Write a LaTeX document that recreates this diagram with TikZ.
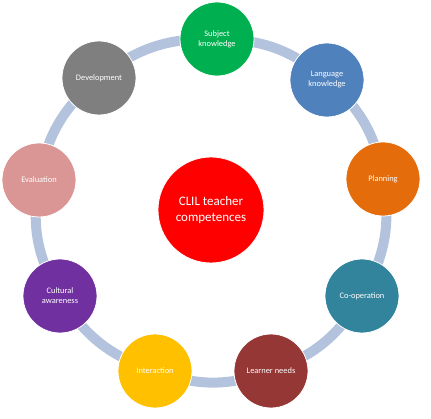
\documentclass[tikz,border=0pt]{standalone}
\usepackage{fontspec}
\setmainfont{Carlito}
\usetikzlibrary{backgrounds}
\definecolor{ringc}{HTML}{B3C3DD}
\definecolor{cgreen}{HTML}{00B050}
\definecolor{cblue}{HTML}{4F81BD}
\definecolor{corange}{HTML}{E46C0A}
\definecolor{cteal}{HTML}{31849B}
\definecolor{cbrown}{HTML}{953735}
\definecolor{cyellow}{HTML}{FFC000}
\definecolor{cpurple}{HTML}{7030A0}
\definecolor{cpink}{HTML}{D99694}
\definecolor{cgrey}{HTML}{7F7F7F}
\definecolor{cred}{HTML}{FF0000}
\begin{document}
\begin{tikzpicture}[x=1pt,y=-1pt,
  comp/.style={circle,draw=white,line width=0.8pt,minimum size=74pt,inner sep=0pt,
    text=white,align=center,font=\fontsize{8.4}{10}\selectfont},
  hub/.style={circle,draw=white,line width=0.8pt,minimum size=106pt,inner sep=0pt,
    fill=cred,text=white,align=center,font=\fontsize{13}{16}\selectfont},
  ring/.style={draw=ringc,line width=10pt}]
\useasboundingbox (0,0) rectangle (431,419);
\node[hub] (c) at (211,210) {CLIL teacher\\competences};
\node[comp,fill=cgreen] (s) at (217,39) {Subject\\knowledge};
\node[comp,fill=cblue] (l) at (327,80) {Language\\knowledge};
\node[comp,fill=corange] (p) at (383,179) {Planning};
\node[comp,fill=cteal] (o) at (362,296) {Co-operation};
\node[comp,fill=cbrown] (n) at (271,371) {Learner needs};
\node[comp,fill=cyellow] (i) at (155,371) {Interaction};
\node[comp,fill=cpurple] (u) at (60,296) {Cultural\\awareness};
\node[comp,fill=cpink] (e) at (39,180) {Evaluation};
\node[comp,fill=cgrey] (d) at (99,78) {Development};
\begin{pgfonlayer}{background}
\foreach \a/\b in {s/l,l/p,p/o,o/n,n/i,i/u,u/e,e/d,d/s}
  \draw[ring] (\a.center) to[bend left=20] (\b.center);
\end{pgfonlayer}
\end{tikzpicture}
\end{document}
